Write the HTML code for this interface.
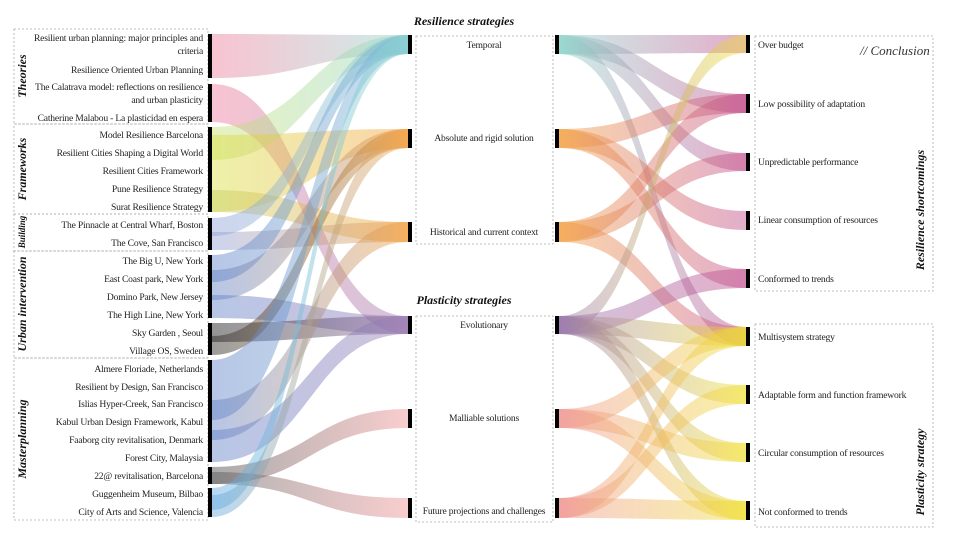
<!DOCTYPE html>
<html><head><meta charset="utf-8"><style>
body{margin:0;background:#fff;}
svg{display:block;font-family:"Liberation Serif",serif;}
.l{font-size:9.6px;fill:#222;letter-spacing:-0.2px;}
</style></head><body>
<svg id="s" width="960" height="540" viewBox="0 0 960 540" xmlns="http://www.w3.org/2000/svg">
<defs id="d"></defs>
<g id="flows"></g>
<g fill="none" stroke="#aaa" stroke-dasharray="2,2" stroke-width="0.8">
<rect x="14" y="29" width="194" height="95"/>
<rect x="14" y="124" width="194" height="90"/>
<rect x="14" y="214" width="194" height="37"/>
<rect x="14" y="251" width="194" height="107"/>
<rect x="14" y="358" width="194" height="162"/>
<rect x="416" y="36" width="137" height="208"/>
<rect x="416" y="316" width="137" height="206"/>
<rect x="755" y="36" width="178" height="255"/>
<rect x="755" y="324" width="178" height="203"/>
</g>
<g fill="#000">
<rect x="208" y="34" width="4" height="44"/><rect x="208" y="84" width="4" height="38"/>
<rect x="208" y="127" width="4" height="85"/><rect x="208" y="218" width="4" height="32"/>
<rect x="208" y="255" width="4" height="63"/><rect x="208" y="323" width="4" height="32"/>
<rect x="208" y="360" width="4" height="102"/><rect x="208" y="467" width="4" height="17"/>
<rect x="208" y="488" width="4" height="29"/>
<rect x="408" y="35" width="4" height="19"/><rect x="408" y="129" width="4" height="19"/>
<rect x="408" y="222" width="4" height="20"/><rect x="408" y="316" width="4" height="18"/>
<rect x="408" y="409" width="4" height="19"/><rect x="408" y="498" width="4" height="20"/>
<rect x="555" y="35" width="4" height="19"/><rect x="555" y="129" width="4" height="19"/>
<rect x="555" y="222" width="4" height="20"/><rect x="555" y="316" width="4" height="18"/>
<rect x="555" y="409" width="4" height="19"/><rect x="555" y="498" width="4" height="20"/>
<rect x="746" y="35" width="4" height="18"/><rect x="746" y="94" width="4" height="19"/>
<rect x="746" y="153" width="4" height="18"/><rect x="746" y="211" width="4" height="19"/>
<rect x="746" y="269" width="4" height="19"/><rect x="746" y="327" width="4" height="19"/>
<rect x="746" y="385" width="4" height="19"/><rect x="746" y="443" width="4" height="19"/>
<rect x="746" y="501" width="4" height="19"/>
</g>
<g class="l" text-anchor="end">
<text x="203" y="41">Resilient urban planning: major principles and</text>
<text x="203" y="54">criteria</text>
<text x="203" y="73">Resilience Oriented Urban Planning</text>
<text x="203" y="90">The Calatrava model: reflections on resilience</text>
<text x="203" y="103">and urban plasticity</text>
<text x="203" y="121">Catherine Malabou - La plasticidad en espera</text>
<text x="203" y="138">Model Resilience Barcelona</text>
<text x="203" y="156">Resilient Cities Shaping a Digital World</text>
<text x="203" y="174">Resilient Cities Framework</text>
<text x="203" y="192">Pune Resilience Strategy</text>
<text x="203" y="210">Surat Resilience Strategy</text>
<text x="203" y="228">The Pinnacle at Central Wharf, Boston</text>
<text x="203" y="246">The Cove, San Francisco</text>
<text x="203" y="264">The Big U, New York</text>
<text x="203" y="282">East Coast park, New York</text>
<text x="203" y="300">Domino Park, New Jersey</text>
<text x="203" y="318">The High Line, New York</text>
<text x="203" y="336">Sky Garden , Seoul</text>
<text x="203" y="354">Village OS, Sweden</text>
<text x="203" y="372">Almere Floriade, Netherlands</text>
<text x="203" y="390">Resilient by Design, San Francisco</text>
<text x="203" y="407">Islias Hyper-Creek, San Francisco</text>
<text x="203" y="425">Kabul Urban Design Framework, Kabul</text>
<text x="203" y="443">Faaborg city revitalisation, Denmark</text>
<text x="203" y="461">Forest City, Malaysia</text>
<text x="203" y="479">22@ revitalisation, Barcelona</text>
<text x="203" y="497">Guggenheim Museum, Bilbao</text>
<text x="203" y="515">City of Arts and Science, Valencia</text>
</g>
<g class="l" text-anchor="middle">
<text x="484" y="48">Temporal</text>
<text x="484" y="141">Absolute and rigid solution</text>
<text x="484" y="235">Historical and current context</text>
<text x="484" y="328">Evolutionary</text>
<text x="484" y="421">Malliable solutions</text>
<text x="484" y="514">Future projections and challenges</text>
</g>
<g class="l">
<text x="758" y="48">Over budget</text>
<text x="758" y="107">Low possibility of adaptation</text>
<text x="758" y="165">Unpredictable performance</text>
<text x="758" y="223">Linear consumption of resources</text>
<text x="758" y="282">Conformed to trends</text>
<text x="758" y="340">Multisystem strategy</text>
<text x="758" y="398">Adaptable form and function framework</text>
<text x="758" y="456">Circular consumption of resources</text>
<text x="758" y="515">Not conformed to trends</text>
</g>
<text x="860" y="55" font-size="13" font-style="italic" fill="#333">// Conclusion</text>
<g font-weight="bold" font-style="italic" font-size="12" fill="#111" text-anchor="middle">
<text x="464" y="25">Resilience strategies</text>
<text x="464" y="304">Plasticity strategies</text>
</g>
<g font-weight="bold" font-size="12" fill="#111" text-anchor="middle" font-style="italic">
<text transform="translate(26,76) rotate(-90)">Theories</text>
<text transform="translate(26,169) rotate(-90)">Frameworks</text>
<text transform="translate(25,232) rotate(-90)" font-size="9">Building</text>
<text transform="translate(26,304) rotate(-90)">Urban intervention</text>
<text transform="translate(26,439) rotate(-90)">Masterplanning</text>
<text transform="translate(924,210) rotate(-90)">Resilience shortcomings</text>
<text transform="translate(924,472) rotate(-90)">Plasticity strategy</text>
</g>
</svg>
<script>
var T=[35,54],A=[129,148],H=[222,242],E=[316,334],M=[409,428],U=[498,518];
var OB=[35,53],LO=[94,113],UN=[153,171],LI=[211,230],CO=[269,288],MU=[327,346],AD=[385,404],CI=[443,462],NO=[501,520];
var tc='#8fd6cc',oc='#f4a040',pc='#9a7ab0',kc='#f09090',mg='#c04a8a',yc='#f0e030';
var F=[
[[34,78],T,'#f07a9a',tc],
[[84,122],E,'#f07a9a',pc],
[[127,160],T,'#c8e070',tc],
[[135,212],A,'#d8e040',oc],
[[190,212],H,'#c8d060',oc],
[[218,236],T,'#8fa0d8',tc],
[[232,250],H,'#8fa0d8',oc],
[[255,282],T,'#5f80c8','#7fc0d8'],
[[270,300],A,'#5f80c8',oc],
[[295,318],E,'#5f80c8',pc],
[[323,342],E,'#111',pc],
[[336,355],A,'#222',oc],
[[360,420],T,'#5f80c8','#7fc0d8'],
[[400,440],H,'#5f80c8',oc],
[[430,462],E,'#5f80c8',pc],
[[467,484],M,'#444',kc],
[[472,484],U,'#555',kc],
[[488,510],T,'#60a8e0',tc],
[[495,517],A,'#60a8e0',oc],
[T,OB,tc,mg],[T,LO,tc,mg],[T,UN,tc,mg],[T,MU,tc,mg],
[A,LO,oc,mg],[A,LI,oc,mg],[A,CO,oc,mg],
[H,LO,oc,mg],[H,UN,oc,mg],[H,MU,oc,mg],
[E,OB,pc,yc],[E,CO,pc,mg],[E,MU,pc,yc],[E,AD,pc,yc],[E,CI,pc,yc],[E,NO,pc,yc],
[M,MU,kc,yc],[M,CI,kc,yc],[M,NO,kc,yc],
[U,MU,kc,yc],[U,AD,kc,yc],[U,NO,kc,yc]
];
var ns='http://www.w3.org/2000/svg',d=document.getElementById('d'),g=document.getElementById('flows');
F.forEach(function(f,i){
var x0,x1;
if(i<19){x0=212;x1=408;}else{x0=559;x1=746;}
var lg=document.createElementNS(ns,'linearGradient');lg.setAttribute('id','g'+i);
lg.setAttribute('gradientUnits','userSpaceOnUse');lg.setAttribute('x1',x0);lg.setAttribute('x2',x1);lg.setAttribute('y1',0);lg.setAttribute('y2',0);
lg.innerHTML='<stop offset="0" stop-color="'+f[2]+'"/><stop offset="1" stop-color="'+f[3]+'"/>';d.appendChild(lg);
var s=f[0],t=f[1],m=(x0+x1)/2,p=document.createElementNS(ns,'path');
p.setAttribute('d','M'+x0+','+s[0]+'C'+m+','+s[0]+' '+m+','+t[0]+' '+x1+','+t[0]+'L'+x1+','+t[1]+'C'+m+','+t[1]+' '+m+','+s[1]+' '+x0+','+s[1]+'Z');
p.setAttribute('fill','url(#g'+i+')');p.setAttribute('fill-opacity','0.45');g.appendChild(p);
});
</script>
</body></html>
